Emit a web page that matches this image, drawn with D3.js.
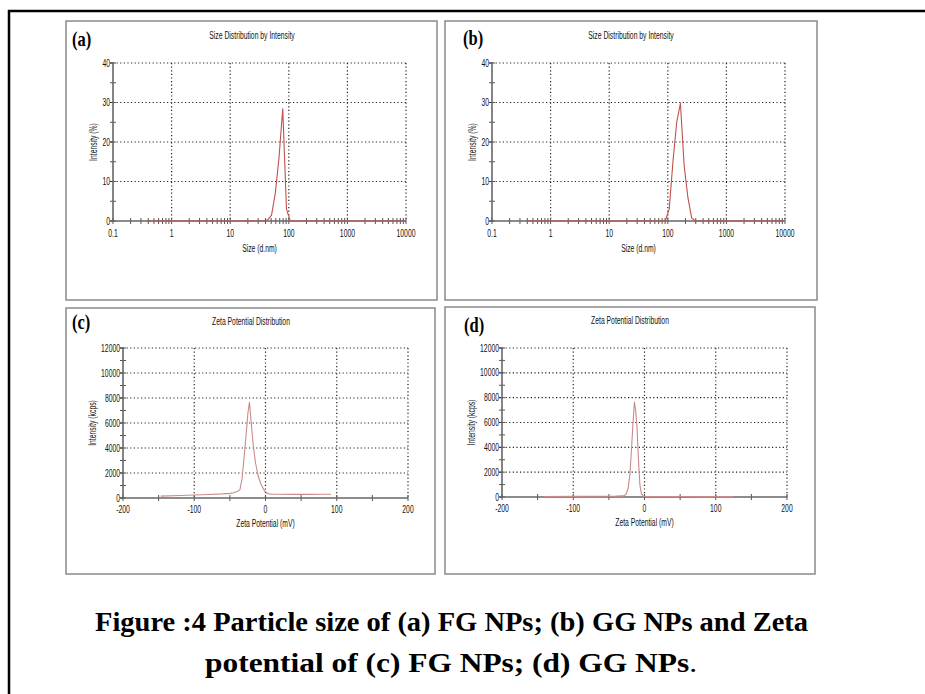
<!DOCTYPE html>
<html><head><meta charset="utf-8">
<script src="https://cdn.jsdelivr.net/npm/d3@7"></script>
<style>body{margin:0;background:#fff}svg{display:block}</style>
</head><body>
<svg id="c" width="925" height="694"></svg>
<script>
// ---------- data ----------
const sizeTickValues = [0.1, 1, 10, 100, 1000, 10000];
const sizeTickLabels = ["0.1", "1", "10", "100", "1000", "10000"];
const pctTickValues = [0, 10, 20, 30, 40];
const pctTickLabels = ["0", "10", "20", "30", "40"];
const zetaTickValues = [-200, -100, 0, 100, 200];
const zetaTickLabels = ["-200", "-100", "0", "100", "200"];
const kcpsTickValues = [0, 2000, 4000, 6000, 8000, 10000, 12000];
const kcpsTickLabels = ["0", "2000", "4000", "6000", "8000", "10000", "12000"];

// (a) FG NPs size distribution
const sizeA_nm  = [0.4, 37.84, 43.82, 50.75, 58.77, 68.06, 78.82, 91.28, 105.7, 122.4, 10000];
const sizeA_pct = [0,   0,     0.3,   1.5,   7,     16,    28.4,  3,     0,     0,     0];
// (b) GG NPs size distribution
const sizeB_nm  = [0.4, 78.82, 91.28, 105.7, 122.4, 141.8, 164.2, 190.1, 220.2, 255.0, 295.3, 10000];
const sizeB_pct = [0,   0,     0.2,   3,     15,    25,    29.8,  14,    6,     0.8,   0,     0];
// (c) FG NPs zeta potential
const zetaC_mV   = [-147, -120, -100, -80, -60, -50, -45, -40, -36, -33, -30, -27, -24.5, -22.5, -20, -17, -14, -10, -7, -4, -1, 2, 5, 10, 20, 40, 60, 80, 92];
const zetaC_kcps = [150, 200, 240, 280, 330, 370, 420, 520, 650, 1500, 3300, 5200, 6900, 7650, 6000, 4100, 2800, 1700, 1200, 850, 550, 400, 330, 300, 300, 290, 290, 300, 300];
// (d) GG NPs zeta potential
const zetaD_mV   = [-141, -100, -60, -40, -30, -26, -23, -20.5, -18.5, -16.5, -14.2, -12.5, -10.5, -8.5, -6.5, -4.5, -2, 0, 20, 60, 100, 125];
const zetaD_kcps = [40, 50, 60, 70, 90, 200, 700, 1800, 3600, 5600, 7650, 7000, 5600, 3000, 1000, 300, 80, 50, 40, 40, 30, 30];

const captionLine1 = "Figure :4 Particle size of (a) FG NPs; (b) GG NPs and Zeta";
const captionLine2 = "potential of (c) FG NPs; (d) GG NPs";

// ---------- drawing ----------
const svg = d3.select("#c");
const SANS = "'Liberation Sans', Arial, sans-serif";
const SERIF = "'Liberation Serif', 'Times New Roman', serif";

// outer frame (top and left)
svg.append("line").attr("x1", 8).attr("x2", 925).attr("y1", 11).attr("y2", 11)
  .attr("stroke", "#000").attr("stroke-width", 2.5);
svg.append("line").attr("x1", 9).attr("x2", 9).attr("y1", 10).attr("y2", 694)
  .attr("stroke", "#000").attr("stroke-width", 2.5);

function txt(g, x, y, s, o = {}) {
  const t = g.append("text")
    .attr("transform", `translate(${x},${y})` + (o.rot ? ` rotate(${o.rot})` : "") + ` scale(${o.sx ?? 0.68},1)`)
    .attr("text-anchor", o.anchor || "middle")
    .attr("font-family", o.family || SANS)
    .attr("font-size", o.size || 10)
    .attr("font-weight", o.weight || "normal")
    .attr("fill", o.fill || "#111")
    .text(s);
  if (o.dy) t.attr("dy", o.dy);
  return t;
}

function drawPanel(p) {
  const g = svg.append("g");
  g.append("rect").attr("x", p.box[0]).attr("y", p.box[1])
    .attr("width", p.box[2] - p.box[0]).attr("height", p.box[3] - p.box[1])
    .attr("fill", "#fff").attr("stroke", "#8a8a8a").attr("stroke-width", 1.5);

  const x = (p.log ? d3.scaleLog() : d3.scaleLinear()).domain(p.xDomain).range([p.plot[0], p.plot[2]]);
  const y = d3.scaleLinear().domain(p.yDomain).range([p.plot[3], p.plot[1]]);
  const [L, T, R, B] = p.plot;

  // grid (dotted)
  p.xTicks.forEach(v => {
    if (x(v) > L + 1)
      g.append("line").attr("x1", x(v)).attr("x2", x(v)).attr("y1", T).attr("y2", B)
        .attr("stroke", "#222").attr("stroke-width", 1.2).attr("stroke-dasharray", "1.2,2.4");
  });
  p.yTicks.forEach(v => {
    if (y(v) < B - 1)
      g.append("line").attr("x1", L).attr("x2", R).attr("y1", y(v)).attr("y2", y(v))
        .attr("stroke", "#222").attr("stroke-width", 1.2).attr("stroke-dasharray", "1.2,2.4");
  });

  // minor ticks from the scales
  const xMinor = p.log ? x.ticks() : x.ticks(8);
  xMinor.forEach(v => {
    if (v < p.xDomain[0] || v > p.xDomain[1]) return;
    g.append("line").attr("x1", x(v)).attr("x2", x(v)).attr("y1", B - 3).attr("y2", B + 3)
      .attr("stroke", "#555").attr("stroke-width", 1);
  });
  y.ticks(p.yMinorCount).forEach(v => {
    g.append("line").attr("x1", L - 3).attr("x2", L + 3).attr("y1", y(v)).attr("y2", y(v))
      .attr("stroke", "#555").attr("stroke-width", 1);
  });
  p.yTicks.forEach(v => {
    g.append("line").attr("x1", L - 3).attr("x2", L).attr("y1", y(v)).attr("y2", y(v))
      .attr("stroke", "#333").attr("stroke-width", 1);
  });

  // axes (solid)
  g.append("line").attr("x1", L).attr("x2", L).attr("y1", T).attr("y2", B)
    .attr("stroke", "#666").attr("stroke-width", 1.6);
  g.append("line").attr("x1", L).attr("x2", R).attr("y1", B).attr("y2", B)
    .attr("stroke", "#666").attr("stroke-width", 1.6);

  // data curve
  const pts = p.xs.map((v, i) => [v, p.ys[i]]);
  g.append("path").datum(pts)
    .attr("d", d3.line().x(d => x(d[0])).y(d => y(d[1])))
    .attr("fill", "none").attr("stroke", p.curveColor).attr("stroke-width", 1.1)
    .attr("stroke-linejoin", "round");

  // tick labels
  p.xTicks.forEach((v, i) => txt(g, x(v), B + p.xLabOff, p.xLabels[i]));
  p.yTicks.forEach((v, i) => txt(g, L - 3, y(v), p.yLabels[i], { anchor: "end", dy: "0.35em" }));

  // titles
  txt(g, p.titleX, p.titleY, p.title);
  txt(g, (L + R) / 2, B + p.xTitleOff, p.xTitle);
  txt(g, L - p.yTitleOff, (T + B) / 2, p.yTitle, { rot: -90 });
  txt(g, p.labelPos[0], p.labelPos[1], p.label,
    { anchor: "start", family: SERIF, weight: "bold", size: 22, sx: 0.75, fill: "#000" });
}

const sizeCommon = {
  log: true, xDomain: [0.1, 10000], yDomain: [0, 40],
  xTicks: sizeTickValues, xLabels: sizeTickLabels, yTicks: pctTickValues, yLabels: pctTickLabels,
  yMinorCount: 8, xLabOff: 16, xTitleOff: 31, yTitleOff: 16,
  title: "Size Distribution by Intensity", xTitle: "Size (d.nm)", yTitle: "Intensity (%)",
  curveColor: "#c0504d"
};
const zetaCommon = {
  log: false, xDomain: [-200, 200], yDomain: [0, 12000],
  xTicks: zetaTickValues, xLabels: zetaTickLabels, yTicks: kcpsTickValues, yLabels: kcpsTickLabels,
  yMinorCount: 12, xLabOff: 15, xTitleOff: 29, yTitleOff: 27,
  title: "Zeta Potential Distribution", xTitle: "Zeta Potential (mV)", yTitle: "Intensity (kcps)",
  curveColor: "#c98a8a"
};

drawPanel(Object.assign({}, sizeCommon, {
  box: [66, 21, 437, 300], plot: [113, 63, 406, 221], titleX: 252, titleY: 39,
  label: "(a)", labelPos: [72, 46], xs: sizeA_nm, ys: sizeA_pct
}));
drawPanel(Object.assign({}, sizeCommon, {
  box: [445, 21, 817, 300], plot: [492, 63, 785, 221], titleX: 631, titleY: 39,
  label: "(b)", labelPos: [463, 45], xs: sizeB_nm, ys: sizeB_pct
}));
drawPanel(Object.assign({}, zetaCommon, {
  box: [66, 308, 435, 574], plot: [123, 348, 408, 498], titleX: 251, titleY: 325,
  label: "(c)", labelPos: [72, 329], xs: zetaC_mV, ys: zetaC_kcps
}));
drawPanel(Object.assign({}, zetaCommon, {
  box: [445, 307, 815, 574], plot: [502, 348, 787, 497], titleX: 630, titleY: 324,
  label: "(d)", labelPos: [464, 332], xs: zetaD_mV, ys: zetaD_kcps
}));

// caption
const cap = svg.append("g").attr("font-family", SERIF).attr("font-size", 28).attr("fill", "#000");
cap.append("text").attr("x", 95).attr("y", 631)
  .attr("textLength", 713).attr("lengthAdjust", "spacingAndGlyphs")
  .attr("font-weight", "bold").text(captionLine1);
const l2 = cap.append("text").attr("x", 205).attr("y", 672)
  .attr("textLength", 492).attr("lengthAdjust", "spacingAndGlyphs");
l2.append("tspan").attr("font-weight", "bold").text(captionLine2);
l2.append("tspan").attr("font-weight", "normal").text(".");
</script>
</body></html>
